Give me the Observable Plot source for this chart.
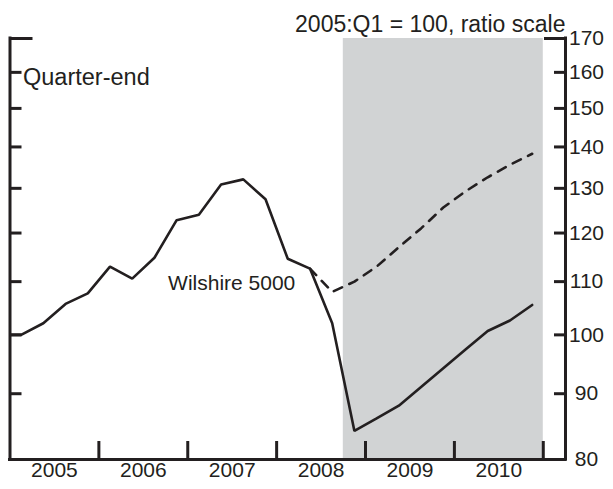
<!DOCTYPE html>
<html>
<head>
<meta charset="utf-8">
<script src="https://cdn.jsdelivr.net/npm/d3@7"></script>
<script src="https://cdn.jsdelivr.net/npm/@observablehq/plot@0.6"></script>
<style>
  html, body { margin: 0; padding: 0; background: #fff; }
  #chart svg { display: block; }
</style>
</head>
<body>
<div id="chart"></div>
<script>
// Quarters (plotted at mid-quarter)
const solidQuarters = [
  "2004Q4",
  "2005Q1","2005Q2","2005Q3","2005Q4",
  "2006Q1","2006Q2","2006Q3","2006Q4",
  "2007Q1","2007Q2","2007Q3","2007Q4",
  "2008Q1","2008Q2","2008Q3","2008Q4",
  "2009Q1","2009Q2","2009Q3","2009Q4",
  "2010Q1","2010Q2","2010Q3","2010Q4"
];
const solidValues = [
  100.0,
  100.0, 102.1, 105.7, 107.7,
  113.0, 110.6, 114.8, 122.8,
  124.0, 130.9, 132.1, 127.5,
  114.6, 112.6, 102.1, 84.2,
  86.1, 88.1, 91.1, 94.2,
  97.4, 100.7, 102.6, 105.5
];
const dashedQuarters = [
  "2008Q2","2008Q3","2008Q4",
  "2009Q1","2009Q2","2009Q3","2009Q4",
  "2010Q1","2010Q2","2010Q3","2010Q4"
];
const dashedValues = [
  112.6, 108.0, 110.0,
  113.0, 117.0, 121.0, 125.6,
  129.3, 132.6, 135.6, 138.3
];
const years = [2005, 2006, 2007, 2008, 2009, 2010];
const yearBoundaries = [2006, 2007, 2008, 2009, 2010, 2011];
const yTicks = [80, 90, 100, 110, 120, 130, 140, 150, 160, 170];
const innerYTicks = [90, 100, 110, 120, 130, 140, 150, 160];
const topTick = [170];
const xDomain = [2005, 2011.25];
const yDomain = [80, 170];
const shadeStart = "2008Q4";
const shadeEnd = 2011;
const titleText = "2005:Q1 = 100, ratio scale";
const unitText = "Quarter-end";
const seriesLabel = {text: "Wilshire 5000", x: 2008.21, y: 109.7};

const qx = q => +q.slice(0, 4) + (+q.slice(5) - 0.5) / 4;
const qStart = q => +q.slice(0, 4) + (+q.slice(5) - 1) / 4;
const solid = solidQuarters.map((q, i) => ({x: qx(q), v: solidValues[i]}));
const dashed = dashedQuarters.map((q, i) => ({x: qx(q), v: dashedValues[i]}));

const ink = "#231f20";
const font = "'Liberation Sans', Arial, Helvetica, sans-serif";

const chart = Plot.plot({
  width: 613,
  height: 489,
  marginLeft: 9.5,
  marginRight: 48,
  marginTop: 38,
  marginBottom: 30,
  style: {fontFamily: font, fontSize: "21px", color: ink, background: "#fff"},
  x: {domain: xDomain, axis: null},
  y: {type: "log", domain: yDomain, axis: null},
  marks: [
    Plot.rect([{x1: qStart(shadeStart), x2: shadeEnd}], {
      x1: "x1", x2: "x2", y1: yDomain[0], y2: yDomain[1], fill: "#d1d3d4"
    }),
    Plot.line(solid, {x: "x", y: "v", stroke: ink, strokeWidth: 2.6, clip: true, strokeLinejoin: "miter"}),
    Plot.line(dashed, {x: "x", y: "v", stroke: ink, strokeWidth: 2.6, strokeDasharray: "9,8", clip: true}),
    // axis lines
    Plot.ruleX(xDomain, {stroke: ink, strokeWidth: 3, strokeLinecap: "square"}),
    Plot.ruleY([yDomain[0]], {stroke: ink, strokeWidth: 3, strokeLinecap: "square"}),
    // ticks
    Plot.axisY(innerYTicks, {anchor: "left", tickSize: -12, tickFormat: () => "", label: null, stroke: ink, strokeWidth: 3}),
    Plot.axisY(innerYTicks, {anchor: "right", tickSize: -12, tickFormat: () => "", label: null, stroke: ink, strokeWidth: 3}),
    Plot.axisY(topTick, {anchor: "left", tickSize: -23, tickFormat: () => "", label: null, stroke: ink, strokeWidth: 3}),
    Plot.axisY(topTick, {anchor: "right", tickSize: -22, tickFormat: () => "", label: null, stroke: ink, strokeWidth: 3}),
    Plot.axisX(yearBoundaries, {anchor: "bottom", tickSize: -18, tickFormat: () => "", label: null, stroke: ink, strokeWidth: 3}),
    // labels
    Plot.text(yTicks, {y: d => d, frameAnchor: "right", dx: 21, textAnchor: "middle", text: d => String(d), fontSize: 21, fill: ink}),
    Plot.text(years, {x: d => d + 0.5, frameAnchor: "bottom", dy: 17, text: d => String(d), fontSize: 21, fill: ink}),
    Plot.text([titleText], {frameAnchor: "top-right", dy: -23, textAnchor: "end", text: d => d, fontSize: 23, fill: ink}),
    Plot.text([unitText], {frameAnchor: "top-left", dx: 13, dy: 29.5, textAnchor: "start", text: d => d, fontSize: 23.5, fill: ink}),
    Plot.text([seriesLabel], {x: "x", y: "y", text: "text", textAnchor: "end", fontSize: 21, fill: ink})
  ]
});
document.getElementById("chart").appendChild(chart);
</script>
</body>
</html>
